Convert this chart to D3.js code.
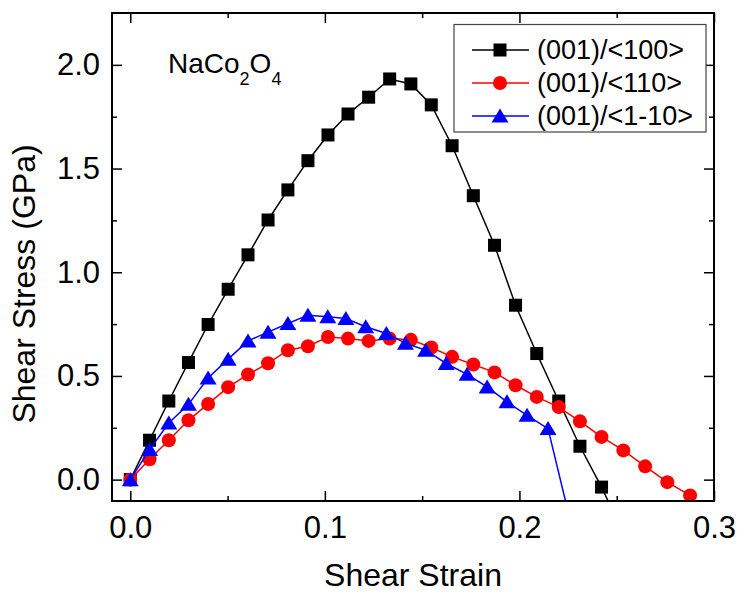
<!DOCTYPE html>
<html>
<head>
<meta charset="utf-8">
<script src="https://cdn.jsdelivr.net/npm/d3@7"></script>
<style>
  body { margin: 0; background: #fff; }
  svg text { font-family: "Liberation Sans", Arial, sans-serif; fill: #000; }
</style>
</head>
<body>
<div id="chart"></div>
<script>
// strain values (shared by <100> and <110>)
var strainA = [0, 0.0099, 0.0198, 0.0299, 0.0400, 0.0503, 0.0605, 0.0708, 0.0810, 0.0913,
  0.1016, 0.1119, 0.1225, 0.1333, 0.1442, 0.1547, 0.1654, 0.1763, 0.1872, 0.1980,
  0.2089, 0.2202, 0.2311, 0.2422, 0.2534, 0.2646, 0.2760, 0.2877];
var strainB = [0, 0.0099, 0.0198, 0.0299, 0.0400, 0.0503, 0.0605, 0.0708, 0.0810, 0.0913,
  0.1015, 0.1108, 0.1210, 0.1316, 0.1414, 0.1518, 0.1624, 0.1731, 0.1834, 0.1936,
  0.2039, 0.2147, 0.2254];

var stress100 = [0, 0.19, 0.379, 0.565, 0.748, 0.918, 1.084, 1.252, 1.397, 1.538,
  1.662, 1.763, 1.844, 1.932, 1.908, 1.807, 1.610, 1.369, 1.130, 0.841,
  0.608, 0.379, 0.161, -0.036, -0.26];
var stress110 = [0, 0.098, 0.19, 0.286, 0.365, 0.446, 0.507, 0.561, 0.624, 0.643,
  0.688, 0.680, 0.669, 0.680, 0.674, 0.637, 0.592, 0.555, 0.517, 0.455,
  0.399, 0.350, 0.281, 0.206, 0.141, 0.064, -0.012, -0.076];
var stress1m10 = [0, 0.145, 0.273, 0.363, 0.49, 0.581, 0.669, 0.711, 0.753, 0.793,
  0.785, 0.777, 0.737, 0.705, 0.658, 0.624, 0.560, 0.508, 0.447, 0.375,
  0.31, 0.246, -0.17];

var seriesNames = ["(001)/<100>", "(001)/<110>", "(001)/<1-10>"];
var xMajor = [0, 0.1, 0.2, 0.3];
var xMinor = [0.05, 0.15, 0.25];
var yMajor = [0, 0.5, 1.0, 1.5, 2.0];
var yMinor = [0.25, 0.75, 1.25, 1.75];

var series = [
  { name: seriesNames[0], x: strainA, y: stress100, color: "#000000", shape: "square" },
  { name: seriesNames[1], x: strainA, y: stress110, color: "#ff0000", shape: "circle" },
  { name: seriesNames[2], x: strainB, y: stress1m10, color: "#0000ff", shape: "triangle" }
];

var W = 739, H = 592;
var pL = 112, pT = 13, pR = 714, pB = 501;

var x = d3.scaleLinear().domain([-0.0094, 0.3]).range([pL, pR]);
var y = d3.scaleLinear().domain([-0.103, 2.25]).range([pB, pT]);

var svg = d3.select("#chart").append("svg")
  .attr("width", W)
  .attr("height", H);

svg.append("rect").attr("width", W).attr("height", H).attr("fill", "#fff");

svg.append("clipPath").attr("id", "clip")
  .append("rect")
  .attr("x", pL).attr("y", pT)
  .attr("width", pR - pL).attr("height", pB - pT);

function marker(sel, shape, color) {
  if (shape == "square") {
    sel.append("rect").attr("x", -6.5).attr("y", -6.5).attr("width", 13).attr("height", 13).attr("fill", color);
  } else if (shape == "circle") {
    sel.append("circle").attr("r", 7).attr("fill", color);
  } else {
    sel.append("path").attr("d", "M0,-7.5L8.5,6.5L-8.5,6.5Z").attr("fill", color);
  }
}

// series
var plot = svg.append("g").attr("clip-path", "url(#clip)");
var line = d3.line()
  .x(function (d) { return x(d[0]); })
  .y(function (d) { return y(d[1]); });

series.forEach(function (s) {
  var pts = s.y.map(function (v, i) { return [s.x[i], v]; });
  var g = plot.append("g");
  g.append("path")
    .attr("d", line(pts))
    .attr("fill", "none")
    .attr("stroke", s.color)
    .attr("stroke-width", 1.5);
  g.selectAll("g.m")
    .data(pts)
    .enter()
    .append("g")
    .attr("class", "m")
    .attr("transform", function (d) { return "translate(" + x(d[0]) + "," + y(d[1]) + ")"; })
    .each(function () { marker(d3.select(this), s.shape, s.color); });
});

// axes, ticks pointing inward on all four sides
svg.append("g").attr("transform", "translate(0," + pB + ")")
  .call(d3.axisBottom(x).tickValues(xMajor).tickSizeInner(-10).tickSizeOuter(0)
    .tickPadding(15).tickFormat(d3.format(".1f")));
svg.append("g").attr("transform", "translate(0," + pB + ")")
  .call(d3.axisBottom(x).tickValues(xMinor).tickSizeInner(-5).tickSizeOuter(0).tickFormat(""));
svg.append("g").attr("transform", "translate(0," + pT + ")")
  .call(d3.axisTop(x).tickValues(xMajor).tickSizeInner(-10).tickSizeOuter(0).tickFormat(""));
svg.append("g").attr("transform", "translate(0," + pT + ")")
  .call(d3.axisTop(x).tickValues(xMinor).tickSizeInner(-5).tickSizeOuter(0).tickFormat(""));

svg.append("g").attr("transform", "translate(" + pL + ",0)")
  .call(d3.axisLeft(y).tickValues(yMajor).tickSizeInner(-10).tickSizeOuter(0)
    .tickPadding(12).tickFormat(d3.format(".1f")));
svg.append("g").attr("transform", "translate(" + pL + ",0)")
  .call(d3.axisLeft(y).tickValues(yMinor).tickSizeInner(-5).tickSizeOuter(0).tickFormat(""));
svg.append("g").attr("transform", "translate(" + pR + ",0)")
  .call(d3.axisRight(y).tickValues(yMajor).tickSizeInner(-10).tickSizeOuter(0).tickFormat(""));
svg.append("g").attr("transform", "translate(" + pR + ",0)")
  .call(d3.axisRight(y).tickValues(yMinor).tickSizeInner(-5).tickSizeOuter(0).tickFormat(""));

svg.selectAll(".domain").remove();
svg.selectAll(".tick line").attr("stroke", "#000").attr("stroke-width", 1.5);
svg.selectAll(".tick text")
  .attr("font-size", 31)
  .attr("font-family", "'Liberation Sans', Arial, sans-serif")
  .attr("fill", "#000");

// frame
svg.append("rect")
  .attr("x", pL).attr("y", pT)
  .attr("width", pR - pL).attr("height", pB - pT)
  .attr("fill", "none").attr("stroke", "#000").attr("stroke-width", 2);

// axis titles
svg.append("text")
  .attr("x", (pL + pR) / 2).attr("y", 586)
  .attr("text-anchor", "middle").attr("font-size", 32)
  .text("Shear Strain");
svg.append("text")
  .attr("transform", "translate(35,284) rotate(-90)")
  .attr("text-anchor", "middle").attr("font-size", 32)
  .text("Shear Stress (GPa)");

// compound label
var lab = svg.append("text").attr("x", 168).attr("y", 73).attr("font-size", 28);
lab.append("tspan").text("NaCo");
lab.append("tspan").attr("font-size", 18).attr("dy", 12).text("2");
lab.append("tspan").attr("dy", -12).text("O");
lab.append("tspan").attr("font-size", 18).attr("dy", 12).text("4");

// legend
var leg = svg.append("g");
leg.append("rect")
  .attr("x", 454).attr("y", 24.5).attr("width", 252).attr("height", 107.5)
  .attr("fill", "#fff").attr("stroke", "#444").attr("stroke-width", 1.2);
series.forEach(function (s, i) {
  var ry = 50 + i * 33;
  var row = leg.append("g").attr("transform", "translate(0," + ry + ")");
  row.append("line").attr("x1", 472).attr("x2", 529).attr("y1", 0).attr("y2", 0)
    .attr("stroke", s.color).attr("stroke-width", 1.5);
  marker(row.append("g").attr("transform", "translate(500,0)"), s.shape, s.color);
  row.append("text").attr("x", 537).attr("y", 0).attr("dy", "0.35em")
    .attr("font-size", 27).text(s.name);
});
</script>
</body>
</html>
